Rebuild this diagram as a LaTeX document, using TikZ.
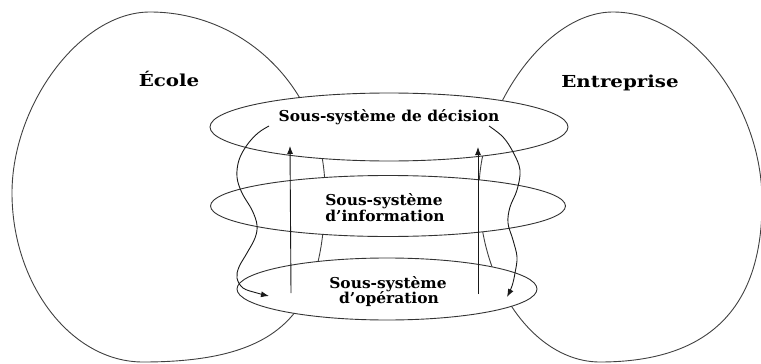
\documentclass[tikz,border=0pt]{standalone}
\usepackage{fontspec}
\newfontfamily\lblfont{DejaVu Serif}
\usetikzlibrary{arrows.meta,shapes.geometric}
\begin{document}
\begin{tikzpicture}[x=1pt,y=-1pt,
  outline/.style={draw=black!75,line width=0.9pt},
  subsys/.style={ellipse,draw=black!80,fill=white,line width=0.9pt,inner sep=0pt},
  flow/.style={draw=black!90,line width=0.9pt,-{Latex[length=8pt,width=6pt]}},
  biglabel/.style={font=\lblfont\bfseries\fontsize{16.5}{18}\selectfont,anchor=base,inner sep=0pt},
  sublabel/.style={font=\lblfont\bfseries\fontsize{15}{16}\selectfont,anchor=base,inner sep=0pt}]
\useasboundingbox (0,0) rectangle (761,364);
\begin{scope}
\clip (0,0) rectangle (761,364);
% big sets
\draw[outline] (12,193) .. controls (12,105) and (80,12) .. (150,12)
  .. controls (247,12) and (325,92) .. (325,190)
  .. controls (325,310) and (285,362) .. (143,362)
  .. controls (71,362) and (12,284) .. (12,193) -- cycle;
\draw[outline] (479,190) .. controls (479,110) and (545,12) .. (613,12)
  .. controls (695,12) and (762,110) .. (762,200)
  .. controls (763,305) and (712,362) .. (600,362)
  .. controls (535,362) and (479,285) .. (479,190) -- cycle;
\end{scope}
% sub-systems
\node[subsys,minimum width=358pt,minimum height=68pt] (dec) at (389,127) {};
\node[subsys,minimum width=355pt,minimum height=61pt] (inf) at (388,206) {};
\node[subsys,minimum width=300pt,minimum height=62pt] (ope) at (387,289) {};
% labels
\node[biglabel] (ecole) at (169,86) {\scalebox{1.2}[1]{École}};
\node[biglabel] (entr) at (620,87) {\scalebox{1.2}[1]{Entreprise}};
\node[sublabel] (decl) at (389,121) {\scalebox{1.03}[1]{Sous-système de décision}};
\node[sublabel] (infa) at (384,205) {\scalebox{1.03}[1]{Sous-système}};
\node[sublabel] (infb) at (385,221) {\scalebox{1.03}[1]{d’information}};
\node[sublabel] (opea) at (388,288) {\scalebox{1.03}[1]{Sous-système}};
\node[sublabel] (opeb) at (389,303) {\scalebox{1.03}[1]{d’opération}};
% arrows
\coordinate (lupS) at (291,293);
\coordinate (lupE) at (290,146);
\coordinate (rupS) at (478,294);
\coordinate (rupE) at (478,147);
\draw[flow] (lupS) -- (lupE);
\draw[flow] (rupS) -- (rupE);
\coordinate (lwS) at (269,126);
\coordinate (lwE) at (269,296);
\coordinate (rwS) at (489,126);
\coordinate (rwE) at (507,297);
\draw[flow] plot[smooth,tension=0.6] coordinates {(lwS) (258,133) (247,145) (239,160) (237,177) (242,193) (252,210) (257,225) (255,238) (247,253) (239,267) (237,278) (243,288) (257,293) (lwE)};
\draw[flow] plot[smooth,tension=0.6] coordinates {(rwS) (503,137) (513,152) (520,170) (517,190) (510,207) (508,223) (513,240) (517,257) (515,273) (512,286) (rwE)};
\end{tikzpicture}
\end{document}
